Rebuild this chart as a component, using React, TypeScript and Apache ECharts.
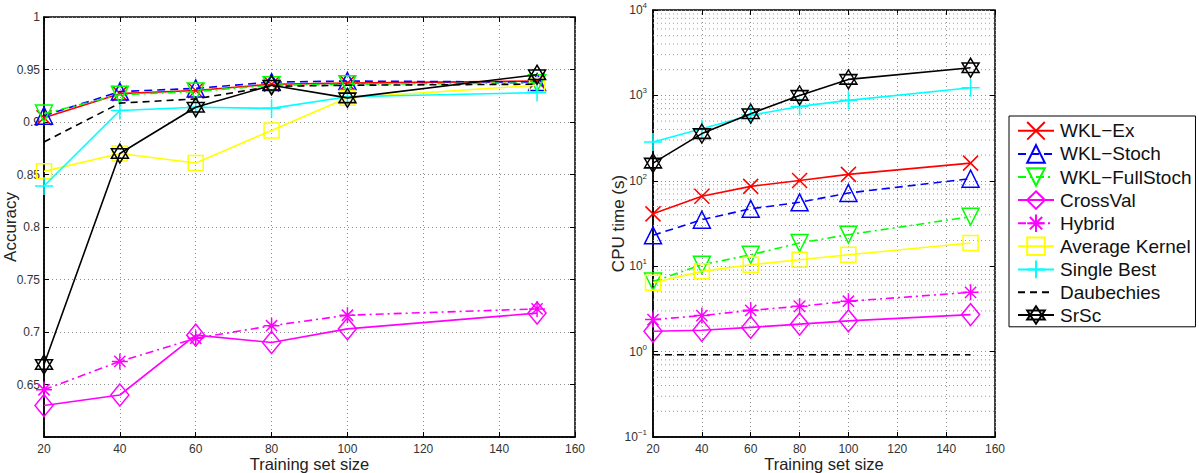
import { useEffect, useRef } from 'react';
import * as echarts from 'echarts';

// Training set sizes shared by both panels
const trainingSizes = [20, 40, 60, 80, 100, 150];

const methodNames = [
  'WKL−Ex',
  'WKL−Stoch',
  'WKL−FullStoch',
  'CrossVal',
  'Hybrid',
  'Average Kernel',
  'Single Best',
  'Daubechies',
  'SrSc',
];

// Accuracy per method
const accWklEx = [0.904, 0.927, 0.930, 0.936, 0.937, 0.939];
const accWklStoch = [0.906, 0.929, 0.932, 0.938, 0.939, 0.938];
const accWklFullStoch = [0.908, 0.926, 0.929, 0.935, 0.936, 0.937];
const accCrossVal = [0.630, 0.640, 0.697, 0.690, 0.703, 0.718];
const accHybrid = [0.645, 0.672, 0.694, 0.706, 0.716, 0.722];
const accAverageKernel = [0.853, 0.870, 0.861, 0.892, 0.923, 0.935];
const accSingleBest = [0.839, 0.911, 0.914, 0.913, 0.924, 0.928];
const accDaubechies = [0.881, 0.918, 0.922, 0.934, 0.935, 0.936];
const accSrSc = [0.669, 0.870, 0.914, 0.935, 0.923, 0.945];

// CPU time in seconds per method
const cpuWklEx = [41, 66, 86, 101, 119, 161];
const cpuWklStoch = [23, 35, 47, 56, 72, 106];
const cpuWklFullStoch = [6.6, 10.4, 13.6, 18.7, 23.4, 38];
const cpuCrossVal = [1.73, 1.78, 1.92, 2.1, 2.29, 2.71];
const cpuHybrid = [2.37, 2.64, 3.04, 3.39, 3.89, 4.94];
const cpuAverageKernel = [6.4, 8.7, 10.4, 11.9, 13.6, 18.7];
const cpuSingleBest = [284, 408, 584, 743, 875, 1230];
const cpuDaubechies = [0.92, 0.92, 0.92, 0.92, 0.92, 0.92];
const cpuSrSc = [161, 357, 611, 1000, 1540, 2110];

const accuracyTable = [
  accWklEx, accWklStoch, accWklFullStoch, accCrossVal, accHybrid,
  accAverageKernel, accSingleBest, accDaubechies, accSrSc,
];
const cpuTable = [
  cpuWklEx, cpuWklStoch, cpuWklFullStoch, cpuCrossVal, cpuHybrid,
  cpuAverageKernel, cpuSingleBest, cpuDaubechies, cpuSrSc,
];

// Minor log-grid positions (2..9 within each decade)
const minorLogLines: number[] = [];
for (let e = -1; e < 4; e++) {
  for (let m = 2; m < 10; m++) minorLogLines.push(m * Math.pow(10, e));
}

const FONT = '"Liberation Sans", Arial, Helvetica, sans-serif';

const SYM_X = 'path://M0,0L10,10M10,0L0,10';
const SYM_TRI_UP = 'path://M5,0L10,10L0,10Z';
const SYM_TRI_DOWN = 'path://M0,0L10,0L5,10Z';
const SYM_STAR = 'path://M5,0L5,10M0,5L10,5M1.5,1.5L8.5,8.5M8.5,1.5L1.5,8.5';
const SYM_SQUARE = 'path://M0,0L10,0L10,10L0,10Z';
const SYM_PLUS = 'path://M5,0L5,10M0,5L10,5';
const SYM_HEXAGRAM = 'path://M8.66,0L17.32,15L0,15Z M0,5L17.32,5L8.66,20Z';

const methodStyles: { color: string; dash: any; symbol: string; size: number[] }[] = [
  { color: '#ff0000', dash: 'solid', symbol: SYM_X, size: [15, 15] },
  { color: '#0000ff', dash: [8, 5], symbol: SYM_TRI_UP, size: [17, 17] },
  { color: '#00ff00', dash: [8, 4, 2, 4], symbol: SYM_TRI_DOWN, size: [17, 17] },
  { color: '#ff00ff', dash: 'solid', symbol: 'diamond', size: [18, 22] },
  { color: '#ff00ff', dash: [8, 4, 2, 4], symbol: SYM_STAR, size: [16, 16] },
  { color: '#ffff00', dash: 'solid', symbol: SYM_SQUARE, size: [15, 15] },
  { color: '#00ffff', dash: 'solid', symbol: SYM_PLUS, size: [18, 18] },
  { color: '#000000', dash: [7, 5], symbol: 'none', size: [0, 0] },
  { color: '#000000', dash: 'solid', symbol: SYM_HEXAGRAM, size: [17, 19] },
];

const gridLine = { color: '#8f8f8f', width: 1, type: [1, 3] as any };
const tickText = { fontFamily: FONT, color: '#333', fontSize: 12 };

function makeSeries(panel: number, table: number[][]) {
  return methodNames.map((name, i) => {
    const st = methodStyles[i];
    return {
      name,
      type: 'line',
      xAxisIndex: panel * 2,
      yAxisIndex: panel * 2,
      data: trainingSizes.map((x, j) => [x, table[i][j]]),
      symbol: st.symbol,
      symbolSize: st.size,
      showSymbol: st.symbol !== 'none',
      lineStyle: { color: st.color, width: 1.6, type: st.dash },
      itemStyle: { color: 'rgba(0,0,0,0)', borderColor: st.color, borderWidth: 1.5 },
      emphasis: { disabled: true },
      z: 3 + i,
      silent: true,
    };
  });
}

function frameAxes(gridIndex: number, type: 'x' | 'y', log: boolean) {
  const common: any = {
    gridIndex,
    axisLine: { show: false },
    axisTick: { show: true, inside: true, length: 5, lineStyle: { color: '#000', width: 1 } },
    axisLabel: { show: false },
    splitLine: { show: false },
  };
  if (type === 'x') {
    return { ...common, type: 'value', min: 20, max: 160, interval: 20, position: 'top' };
  }
  return log
    ? { ...common, type: 'log', logBase: 10, min: 0.1, max: 10000, position: 'right' }
    : { ...common, type: 'value', min: 0.6, max: 1, interval: 0.05, position: 'right' };
}

const mainXAxis = (gridIndex: number) => ({
  gridIndex,
  type: 'value',
  min: 20,
  max: 160,
  interval: 20,
  position: 'bottom',
  axisLine: { show: true, lineStyle: { color: '#000', width: 1.5 } },
  axisTick: { show: true, inside: true, length: 5, lineStyle: { color: '#000', width: 1 } },
  axisLabel: { ...tickText, margin: 6 },
  splitLine: { show: true, lineStyle: gridLine },
});

// Axis titles placed as text elements
const titleStyle = (text: string, size: number) => ({
  text,
  font: `${size}px "Liberation Sans", Arial, Helvetica, sans-serif`,
  fill: '#222',
  textAlign: 'center',
  textVerticalAlign: 'middle',
});

const axisTitles = [
  { type: 'text', x: 309.5, y: 464, style: titleStyle('Training set size', 16.5), silent: true },
  { type: 'text', x: 824, y: 464, style: titleStyle('Training set size', 16.5), silent: true },
  { type: 'text', x: 10, y: 227, rotation: Math.PI / 2, style: titleStyle('Accuracy', 17), silent: true },
  { type: 'text', x: 618, y: 223.5, rotation: Math.PI / 2, style: titleStyle('CPU time (s)', 17), silent: true },
];

// Legend entries; the Daubechies entry is a plain dashed line without a marker
const legendEntries = methodNames.map((name, i) =>
  methodStyles[i].symbol === 'none'
    ? { name, itemStyle: { color: 'rgba(0,0,0,0)', borderColor: 'rgba(0,0,0,0)', borderWidth: 0 } }
    : { name }
);

const option: any = {
  animation: false,
  backgroundColor: '#fff',
  graphic: axisTitles,
  grid: [
    { left: 44, top: 17, width: 531, height: 420, show: true, borderColor: '#000', borderWidth: 1.5, backgroundColor: '#fff' },
    { left: 653, top: 10, width: 342, height: 427, show: true, borderColor: '#000', borderWidth: 1.5, backgroundColor: '#fff' },
  ],
  xAxis: [mainXAxis(0), frameAxes(0, 'x', false), mainXAxis(1), frameAxes(1, 'x', true)],
  yAxis: [
    {
      gridIndex: 0,
      type: 'value',
      min: 0.6,
      max: 1,
      interval: 0.05,
      axisLine: { show: true, lineStyle: { color: '#000', width: 1.5 } },
      axisTick: { show: true, inside: true, length: 5, lineStyle: { color: '#000', width: 1 } },
      axisLabel: {
        ...tickText,
        margin: 4,
        formatter: (v: number) => (v < 0.62 ? '' : String(Number(v.toFixed(2)))),
      },
      splitLine: { show: true, lineStyle: gridLine },
    },
    frameAxes(0, 'y', false),
    {
      gridIndex: 1,
      type: 'log',
      logBase: 10,
      min: 0.1,
      max: 10000,
      axisLine: { show: true, lineStyle: { color: '#000', width: 1.5 } },
      axisTick: { show: true, inside: true, length: 5, lineStyle: { color: '#000', width: 1 } },
      axisLabel: {
        margin: 6,
        formatter: (v: number) => {
          const e = Math.round(Math.log10(v));
          return `{b|10}{s|${e < 0 ? '−' + -e : e}}`;
        },
        rich: {
          b: { ...tickText },
          s: { fontFamily: FONT, color: '#333', fontSize: 8, padding: [0, 0, 9, 0] },
        },
      },
      splitLine: { show: true, lineStyle: gridLine },
    },
    frameAxes(1, 'y', true),
  ],
  legend: {
    data: legendEntries,
    orient: 'vertical',
    left: 1009,
    top: 116,
    itemWidth: 36,
    itemHeight: 22,
    itemGap: 3.5,
    padding: [5, 4, 2, 8],
    borderColor: '#000',
    borderWidth: 1,
    backgroundColor: '#fff',
    selectedMode: false,
    textStyle: { fontFamily: FONT, fontSize: 19, color: '#111', padding: [0, 0, 0, 1] },
  },
  series: [
    {
      type: 'custom',
      xAxisIndex: 2,
      yAxisIndex: 2,
      silent: true,
      z: 1,
      data: minorLogLines.map((v) => [20, v]),
      renderItem: (params: any, api: any) => {
        const cs = params.coordSys;
        const y = api.coord([api.value(0), api.value(1)])[1];
        return {
          type: 'line',
          shape: { x1: cs.x, y1: y, x2: cs.x + cs.width, y2: y },
          style: { stroke: '#9a9a9a', lineWidth: 1, lineDash: [1, 3] },
        };
      },
    },
    ...makeSeries(0, accuracyTable),
    ...makeSeries(1, cpuTable),
  ],
};

export default function App() {
  const ref = useRef<HTMLDivElement>(null);
  useEffect(() => {
    if (!ref.current) return;
    const chart = echarts.init(ref.current, undefined, { renderer: 'svg' });
    chart.setOption(option);
    return () => chart.dispose();
  }, []);
  return (
    <div
      ref={ref}
      style={{ position: 'fixed', left: 0, top: 0, width: 1199, height: 473, background: '#fff' }}
    />
  );
}
